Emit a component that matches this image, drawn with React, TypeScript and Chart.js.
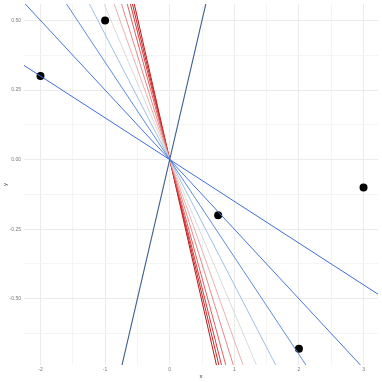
import React, { useEffect, useRef } from 'react';
import { Chart, registerables } from 'chart.js';

Chart.register(...registerables);

// Fitted-line slopes (lines through the origin), blue -> red
const slopes = [-0.15, -0.25, -0.35, -0.45, -0.55, -0.65, -0.75, -0.85, -0.92, -0.97, -1.02];
const slopeColors = ['#3e6ddb', '#4574d9', '#5d8cdb', '#9dbfe6', '#dadada', '#ecb0b0', '#e68787', '#df6060', '#d43c3c', '#c92727', '#ba1818'];
const initialSlope = 1.0;
const initialColor = '#3d5f8e';

// Observed points
const pointX = [-2, -1, 0.75, 2, 3];
const pointY = [0.3, 0.5, -0.2, -0.68, -0.1];

// Axis ticks
const xTicks = [-2, -1, 0, 1, 2, 3];
const yTicks = [-0.5, -0.25, 0, 0.25, 0.5];
const X_MIN = -2.255;
const X_MAX = 3.224;
const Y_MIN = -0.738;
const Y_MAX = 0.559;

function withMinor(major: number[], min: number, max: number): number[] {
  const step = major[1] - major[0];
  const all = new Set<number>();
  major.forEach((v) => {
    all.add(+v.toFixed(6));
    [v - step / 2, v + step / 2].forEach((m) => {
      if (m >= min && m <= max) all.add(+m.toFixed(6));
    });
  });
  return Array.from(all).sort((a, b) => a - b);
}

function isMajor(v: number, major: number[]) {
  return major.some((m) => Math.abs(m - v) < 1e-9);
}

export default function App() {
  const ref = useRef<HTMLCanvasElement | null>(null);

  useEffect(() => {
    if (!ref.current) return;
    const lineDatasets: any[] = slopes.map((b, i) => ({
      type: 'scatter',
      data: [
        { x: X_MIN, y: b * X_MIN },
        { x: X_MAX, y: b * X_MAX },
      ],
      showLine: true,
      borderColor: slopeColors[i],
      backgroundColor: slopeColors[i],
      borderWidth: 1,
      pointRadius: 0,
      clip: 0,
    }));
    const initDataset: any = {
      type: 'scatter',
      data: [
        { x: X_MIN, y: initialSlope * X_MIN },
        { x: X_MAX, y: initialSlope * X_MAX },
      ],
      showLine: true,
      borderColor: initialColor,
      backgroundColor: initialColor,
      borderWidth: 1.1,
      pointRadius: 0,
      clip: 0,
    };
    const pointsDataset: any = {
      type: 'scatter',
      data: pointX.map((x, i) => ({ x, y: pointY[i] })),
      showLine: false,
      pointRadius: 4,
      pointBackgroundColor: '#000000',
      pointBorderColor: '#000000',
      pointBorderWidth: 0,
      clip: false,
    };

    const tickFont = { family: '"Liberation Sans", Arial, sans-serif', size: 5 };
    const titleFont = { family: '"Liberation Sans", Arial, sans-serif', size: 6 };
    const gridColor = (ctx: any, major: number[]) =>
      isMajor(ctx.tick.value, major) ? '#ebebeb' : '#f4f4f4';

    const chart = new Chart(ref.current, {
      type: 'scatter',
      data: { datasets: [initDataset, ...lineDatasets, pointsDataset] },
      options: {
        animation: false,
        responsive: false,
        layout: { padding: { top: 3, right: 4, left: 0, bottom: 0 } },
        plugins: { legend: { display: false }, tooltip: { enabled: false } },
        scales: {
          x: {
            type: 'linear',
            min: X_MIN,
            max: X_MAX,
            afterBuildTicks: (s: any) => {
              s.ticks = withMinor(xTicks, X_MIN, X_MAX).map((v) => ({ value: v }));
            },
            afterFit: (s: any) => {
              s.height = 17;
              s.paddingLeft = 0;
              s.paddingRight = 0;
            },
            ticks: {
              autoSkip: false,
              maxRotation: 0,
              padding: 2,
              color: '#777777',
              font: tickFont,
              callback: (v: any) => (isMajor(+v, xTicks) ? String(Math.round(+v)) : ''),
            },
            grid: {
              drawTicks: false,
              color: (ctx: any) => gridColor(ctx, xTicks),
              lineWidth: 1,
            },
            border: { display: false },
            title: {
              display: true,
              text: 'x',
              color: '#333333',
              font: titleFont,
              padding: { top: 0, bottom: 2 },
            },
          },
          y: {
            type: 'linear',
            min: Y_MIN,
            max: Y_MAX,
            afterBuildTicks: (s: any) => {
              s.ticks = withMinor(yTicks, Y_MIN, Y_MAX).map((v) => ({ value: v }));
            },
            afterFit: (s: any) => {
              s.width = 24;
              s.paddingTop = 0;
              s.paddingBottom = 0;
            },
            ticks: {
              autoSkip: false,
              padding: 3,
              color: '#777777',
              font: tickFont,
              callback: (v: any) => (isMajor(+v, yTicks) ? (+v).toFixed(2) : ''),
            },
            grid: {
              drawTicks: false,
              color: (ctx: any) => gridColor(ctx, yTicks),
              lineWidth: 1,
            },
            border: { display: false },
            title: {
              display: true,
              text: 'y',
              color: '#333333',
              font: titleFont,
              padding: { top: 1.5, bottom: 0 },
            },
          },
        },
      } as any,
    });
    return () => chart.destroy();
  }, []);

  return (
    <div style={{ position: 'absolute', left: 0, top: 0, width: 382, height: 382, background: '#ffffff' }}>
      <canvas ref={ref} width={382} height={382} style={{ width: 382, height: 382, display: 'block' }} />
    </div>
  );
}
